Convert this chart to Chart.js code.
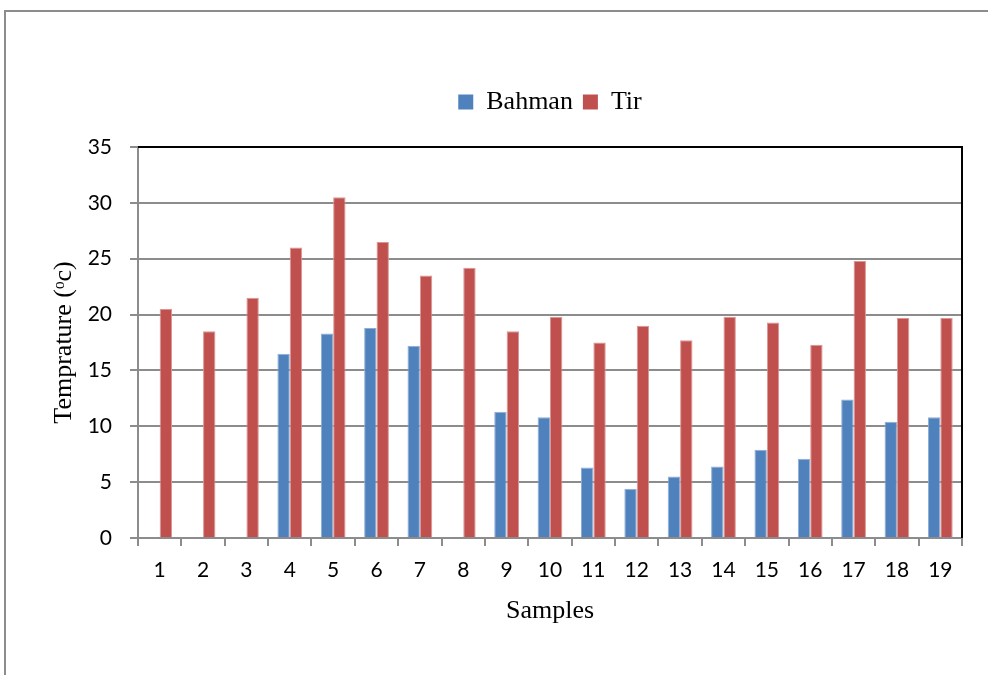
<!DOCTYPE html>
<html>
<head>
<meta charset="utf-8">
<title>Temprature by sample</title>
<script src="https://cdn.jsdelivr.net/npm/chart.js@4/dist/chart.umd.min.js"></script>
<style>
    html, body { margin: 0; padding: 0; background: #fff; }
    #wrap { position: relative; width: 988px; height: 675px; overflow: hidden; }
    #frame { position: absolute; left: 4px; top: 10px; width: 1000px; height: 700px;
             border-left: 2px solid #8c8c8c; border-top: 2px solid #8c8c8c; }
    #chart { position: absolute; left: 0; top: 0; }
</style>
</head>
<body>
<div id="wrap">
    <div id="frame"></div>
    <canvas id="chart" width="988" height="675"></canvas>
</div>
<script>
// Data
const samples = ['1','2','3','4','5','6','7','8','9','10','11','12','13','14','15','16','17','18','19'];
const bahman = [null, null, null, 16.5, 18.3, 18.8, 17.2, null, 11.3, 10.8, 6.3, 4.4, 5.5, 6.4, 7.9, 7.1, 12.4, 10.4, 10.8];
const tir = [20.5, 18.5, 21.5, 26, 30.5, 26.5, 23.5, 24.2, 18.5, 19.8, 17.5, 19, 17.7, 19.8, 19.3, 17.3, 24.8, 19.7, 19.7];
const yTicks = [0, 5, 10, 15, 20, 25, 30, 35];

const serif = 'Liberation Serif, Times New Roman, serif';
const sans = 'Lato, Carlito, Calibri, sans-serif';
const gridGray = '#8c8c8c';

// Fixed legend height, and centre the legend over the plot area
const legendBox = {
    id: 'legendBox',
    beforeInit(chart) {
        const fit = chart.legend.fit;
        chart.legend.fit = function () {
            fit.bind(chart.legend)();
            this.height = 68;
        };
    },
    afterLayout(chart) {
        const a = chart.chartArea;
        chart.legend.left = a.left;
        chart.legend.right = a.right;
    }
};

// Black top/right plot border
const plotFrame = {
    id: 'plotFrame',
    afterDraw(chart) {
        const { ctx, chartArea: a } = chart;
        ctx.save();
        ctx.strokeStyle = '#000';
        ctx.lineWidth = 2;
        ctx.beginPath();
        ctx.moveTo(a.left, a.top);
        ctx.lineTo(a.right, a.top);
        ctx.lineTo(a.right, a.bottom);
        ctx.stroke();
        ctx.restore();
    }
};

new Chart(document.getElementById('chart'), {
    type: 'bar',
    data: {
        labels: samples,
        datasets: [
            { label: 'Bahman', data: bahman, backgroundColor: '#4F81BD', borderColor: '#8EADD6', borderWidth: 1 },
            { label: 'Tir', data: tir, backgroundColor: '#C0504D', borderColor: '#DB9593', borderWidth: 1 }
        ]
    },
    options: {
        responsive: false,
        animation: false,
        devicePixelRatio: 1,
        layout: { padding: { left: 0, top: 79, right: 26, bottom: 0 } },
        datasets: { bar: { categoryPercentage: 0.571, barPercentage: 1 } },
        plugins: {
            tooltip: { enabled: false },
            legend: {
                position: 'top',
                align: 'center',
                labels: {
                    boxWidth: 15,
                    boxHeight: 15,
                    padding: 10,
                    color: '#000',
                    font: { family: serif, size: 26 },
                    generateLabels(chart) {
                        return chart.data.datasets.map((ds, i) => ({
                            text: ds.label,
                            fillStyle: ds.backgroundColor,
                            strokeStyle: ds.backgroundColor,
                            lineWidth: 0,
                            datasetIndex: i
                        }));
                    }
                }
            }
        },
        scales: {
            x: {
                afterFit: s => { s.height = 137; },
                grid: { drawOnChartArea: false, drawTicks: true, tickLength: 8, color: gridGray, lineWidth: 2 },
                border: { color: gridGray, width: 2 },
                ticks: { color: '#000', padding: 12, font: { family: sans, size: 21 } },
                title: { display: true, text: 'Samples', color: '#000', font: { family: serif, size: 26 }, padding: { top: 0, bottom: 48 } }
            },
            y: {
                min: 0,
                max: 35,
                afterFit: s => { s.width = 138; },
                afterBuildTicks: s => { s.ticks = yTicks.map(v => ({ value: v })); },
                grid: {
                    color: c => c.tick && c.tick.value === 35 ? '#000' : gridGray,
                    tickColor: gridGray,
                    lineWidth: 2,
                    tickLength: 8
                },
                border: { color: gridGray, width: 2 },
                ticks: { color: '#000', padding: 18, font: { family: sans, size: 21 } },
                title: { display: true, text: 'Temprature (ᵒc)', color: '#000', font: { family: serif, size: 26 }, padding: { top: 49, bottom: 0 } }
            }
        }
    },
    plugins: [legendBox, plotFrame]
});
</script>
</body>
</html>
